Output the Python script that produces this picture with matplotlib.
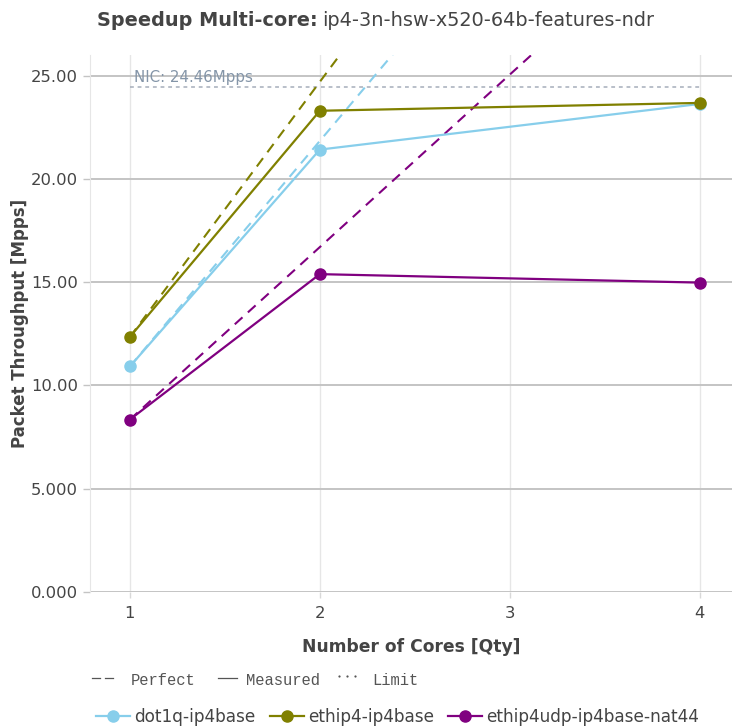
import matplotlib
matplotlib.use("Agg")
import matplotlib.pyplot as plt
from matplotlib.lines import Line2D
from matplotlib.ticker import FixedLocator, FixedFormatter

# data
cores = [1, 2, 4]
tests = ["dot1q-ip4base", "ethip4-ip4base", "ethip4udp-ip4base-nat44"]
dot1q = [10.92, 21.42, 23.63]
ethip4 = [12.35, 23.30, 23.68]
nat44 = [8.35, 15.39, 14.98]
colors = ["#87ceeb", "#808000", "#800080"]
nic_limit = 24.46
y_ticks = [0, 5, 10, 15, 20, 25]
y_labels = ["0.000", "5.000", "10.00", "15.00", "20.00", "25.00"]
x_ticks = [1, 2, 3, 4]

W, H = 732, 727
fig = plt.figure(figsize=(W / 100, H / 100), dpi=100)
ax = fig.add_axes([90 / W, 1 - 592 / H, 642 / W, (592 - 55) / H])

grey = "#444444"
for vals, col in zip([dot1q, ethip4, nat44], colors):
    # perfect scaling from the 1-core value
    perf_x = [1, 4]
    perf_y = [vals[0] * x for x in perf_x]
    ax.plot(perf_x, perf_y, color=col, lw=1.5, ls=(0, (5, 3.5)), zorder=3)
handles = []
for vals, col, name in zip([dot1q, ethip4, nat44], colors, tests):
    h, = ax.plot(cores, vals, color=col, lw=1.6, marker="o", ms=8,
                 label=name, zorder=4)
    handles.append(h)

# NIC limit
ax.plot([1, 4], [nic_limit, nic_limit], color="#a5adba", lw=1.1,
        ls=(0, (2.5, 2.5)), zorder=2)
ax.text(1.02, nic_limit + 0.08, "NIC: %.2fMpps" % nic_limit, color="#8495a8",
        fontsize=10.8, va="bottom", ha="left")

ax.set_xlim(0.79, 4.17)
ax.set_ylim(0, 26)
ax.yaxis.set_major_locator(FixedLocator(y_ticks))
ax.yaxis.set_major_formatter(FixedFormatter(y_labels))
ax.set_xticks(x_ticks)
ax.grid(axis="y", color="#c4c4c4", lw=1.4, zorder=0)
ax.grid(axis="x", color="#e6e6e6", lw=1, zorder=0)
ax.set_axisbelow(True)
for s in ["top", "right", "bottom"]:
    ax.spines[s].set_visible(False)
ax.spines["left"].set_color("#e6e6e6")
ax.tick_params(axis="y", colors="#c4c4c4", labelcolor=grey, labelsize=11.8,
               length=5, width=1)
ax.tick_params(axis="x", colors="#d8d8d8", labelcolor=grey, labelsize=11.8,
               length=4, width=1, pad=6)

ax.set_xlabel("Number of Cores [Qty]", fontsize=12.3, fontweight="bold",
              color=grey, labelpad=12)
fig.text(20 / W, 1 - 323 / H, "Packet Throughput [Mpps]", rotation=90,
         fontsize=12, fontweight="bold", color=grey, ha="center", va="center")

# title: bold part + normal part
ty = 1 - 20 / H
t1 = fig.text(97 / W, ty, "Speedup Multi-core:", fontsize=13.85,
              fontweight="bold", color=grey, ha="left", va="center")
fig.canvas.draw()
bb = t1.get_window_extent()
fig.text((bb.x1 + 4) / W, ty, "ip4-3n-hsw-x520-64b-features-ndr",
         fontsize=13.85, color=grey, ha="left", va="center")

# style legend line
ly = 1 - 682 / H
dy = 1 - 678 / H
mono = dict(family="Liberation Mono", fontsize=11.2, color="#555555",
            va="center", ha="left")
for x0, x1 in [(92, 100), (105, 113), (218, 237)]:
    fig.add_artist(Line2D([x0 / W, x1 / W], [dy, dy], color="#555555", lw=0.9))
fig.add_artist(Line2D([339 / W, 347 / W, 355 / W], [1 - 676 / H] * 3,
                      ls="none", marker="o", ms=1.6, color="#555555", mew=0))
fig.text(131 / W, ly + 0.002, "Perfect", **mono)
fig.text(246 / W, ly + 0.002, "Measured", **mono)
fig.text(372 / W, ly + 0.002, "Limit", **mono)

fig.legend(handles=handles, loc="center left",
           bbox_to_anchor=(96 / W, 1 - 717 / H), ncol=3, frameon=False,
           fontsize=12.2, handlelength=2.0, handletextpad=0.25,
           columnspacing=0.85, borderpad=0, borderaxespad=0, labelcolor=grey)

fig.savefig("out.png", dpi=100)
